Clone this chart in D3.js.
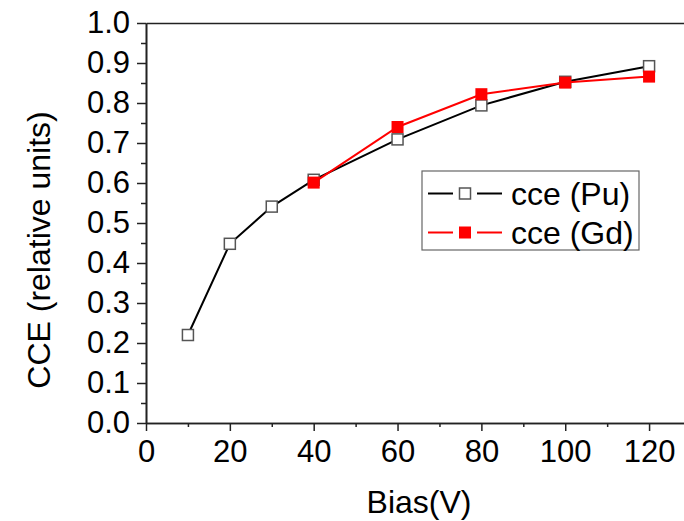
<!DOCTYPE html>
<html lang="en">
  <head>
    <meta charset="utf-8">
    <title>CCE vs Bias</title>
    <script src="https://d3js.org/d3.v7.min.js"></script>
    <style>
      body { margin: 0; background: #fff; }
      text { font-family: "Liberation Sans", Arial, sans-serif; fill: #000; }
    </style>
  </head>
  <body>
    <div id="chart"></div>
    <script type="text/javascript">
      // data
      var biasPu = [10, 20, 30, 40, 60, 80, 100, 120];
      var ccePu = [0.220, 0.448, 0.541, 0.608, 0.709, 0.794, 0.853, 0.892];
      var biasGd = [40, 60, 80, 100, 120];
      var cceGd = [0.601, 0.740, 0.822, 0.851, 0.866];

      var xTicks = [0, 20, 40, 60, 80, 100, 120];
      var xMinor = [10, 30, 50, 70, 90, 110, 130];
      var yTicks = [0, 0.1, 0.2, 0.3, 0.4, 0.5, 0.6, 0.7, 0.8, 0.9, 1.0];
      var yMinor = [0.05, 0.15, 0.25, 0.35, 0.45, 0.55, 0.65, 0.75, 0.85, 0.95];
      var seriesNames = ["cce (Pu)", "cce (Gd)"];

      var svgContainer = d3.select('#chart')
        .append('svg')
        .attr('width', 684)
        .attr('height', 521);

      // scales (the plot frame runs off the right edge of the picture)
      var xScale = d3.scaleLinear().domain([0, 130]).range([146, 691]);
      var yScale = d3.scaleLinear().domain([0, 1]).range([423, 23]);

      var styleAxis = function(g) {
        g.select('.domain').attr('stroke', '#222').attr('stroke-width', 1.6);
        g.selectAll('.tick line').attr('stroke', '#222').attr('stroke-width', 1.5);
        g.selectAll('.tick text')
          .style('font-family', '"Liberation Sans", Arial, sans-serif')
          .style('font-size', '31px')
          .attr('fill', '#000');
      };

      // minor ticks first, majors drawn on top
      svgContainer.append('g')
        .attr('transform', 'translate(0,' + yScale(0) + ')')
        .call(d3.axisBottom(xScale).tickValues(xMinor).tickSize(4).tickFormat('').tickSizeOuter(0))
        .call(styleAxis);

      svgContainer.append('g')
        .attr('transform', 'translate(0,' + yScale(0) + ')')
        .call(d3.axisBottom(xScale).tickValues(xTicks).tickSize(8).tickPadding(9).tickSizeOuter(0))
        .call(styleAxis);

      svgContainer.append('g')
        .attr('transform', 'translate(' + xScale(0) + ',0)')
        .call(d3.axisLeft(yScale).tickValues(yMinor).tickSize(5).tickFormat('').tickSizeOuter(0))
        .call(styleAxis);

      svgContainer.append('g')
        .attr('transform', 'translate(' + xScale(0) + ',0)')
        .call(d3.axisLeft(yScale).tickValues(yTicks).tickSize(9).tickPadding(7).tickSizeOuter(0)
          .tickFormat(d3.format('.1f')))
        .call(styleAxis);

      // top frame line
      svgContainer.append('g')
        .attr('transform', 'translate(0,' + yScale(1) + ')')
        .call(d3.axisTop(xScale).tickValues([]).tickSizeOuter(0))
        .call(styleAxis);

      // axis titles
      svgContainer.append('text')
        .attr('x', 419)
        .attr('y', 513)
        .attr('text-anchor', 'middle')
        .style('font-size', '32px')
        .text('Bias(V)');

      svgContainer.append('text')
        .attr('transform', 'translate(50, 250)rotate(-90)')
        .attr('text-anchor', 'middle')
        .style('font-size', '32px')
        .text('CCE (relative units)');

      var line = d3.line()
        .x(function(d) { return xScale(d[0]); })
        .y(function(d) { return yScale(d[1]); });

      var puData = biasPu.map(function(b, i) { return [b, ccePu[i]]; });
      var gdData = biasGd.map(function(b, i) { return [b, cceGd[i]]; });

      // Pu series: black line, hollow grey squares
      svgContainer.append('path')
        .datum(puData)
        .attr('d', line)
        .attr('fill', 'none')
        .attr('stroke', '#000')
        .attr('stroke-width', 2);

      svgContainer.selectAll('.pu')
        .data(puData)
        .enter()
        .append('rect')
          .attr('class', 'pu')
          .attr('x', function(d) { return xScale(d[0]) - 5.5; })
          .attr('y', function(d) { return yScale(d[1]) - 5.5; })
          .attr('width', 11)
          .attr('height', 11)
          .attr('fill', '#fff')
          .attr('stroke', '#555')
          .attr('stroke-width', 1.5);

      // Gd series: red line, filled red squares
      svgContainer.append('path')
        .datum(gdData)
        .attr('d', line)
        .attr('fill', 'none')
        .attr('stroke', '#ff0000')
        .attr('stroke-width', 2);

      svgContainer.selectAll('.gd')
        .data(gdData)
        .enter()
        .append('rect')
          .attr('class', 'gd')
          .attr('x', function(d) { return xScale(d[0]) - 6; })
          .attr('y', function(d) { return yScale(d[1]) - 6; })
          .attr('width', 12)
          .attr('height', 12)
          .attr('fill', '#ff0000');

      // legend
      var legend = svgContainer.append('g');
      legend.append('rect')
        .attr('x', 422)
        .attr('y', 171)
        .attr('width', 217)
        .attr('height', 79)
        .attr('fill', '#fff')
        .attr('stroke', '#666')
        .attr('stroke-width', 1.2);

      var rows = [
        { name: seriesNames[0], color: '#000', fill: '#fff', stroke: '#555', y: 193.5, size: 11 },
        { name: seriesNames[1], color: '#ff0000', fill: '#ff0000', stroke: 'none', y: 232.5, size: 12 }
      ];

      rows.forEach(function(r) {
        // line broken either side of the marker
        [[428, 453], [477, 502]].forEach(function(seg) {
          legend.append('line')
            .attr('x1', seg[0]).attr('x2', seg[1])
            .attr('y1', r.y).attr('y2', r.y)
            .attr('stroke', r.color)
            .attr('stroke-width', 2);
        });
        legend.append('rect')
          .attr('x', 465 - r.size / 2)
          .attr('y', r.y - r.size / 2)
          .attr('width', r.size)
          .attr('height', r.size)
          .attr('fill', r.fill)
          .attr('stroke', r.stroke)
          .attr('stroke-width', 1.5);
        legend.append('text')
          .attr('x', 511)
          .attr('y', r.y + 11)
          .style('font-size', '32px')
          .text(r.name);
      });
    </script>
  </body>
</html>
